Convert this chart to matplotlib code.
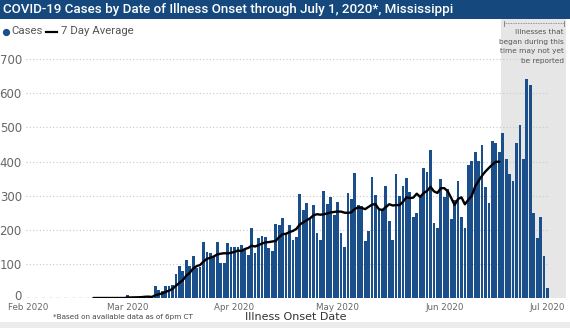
import matplotlib
matplotlib.use("Agg")
import matplotlib.pyplot as plt
import matplotlib.dates as mdates
import matplotlib.transforms as mtransforms
from matplotlib.patches import Rectangle
from matplotlib.lines import Line2D
import pandas as pd

# ---------------- data ----------------
title = "COVID-19 Cases by Date of Illness Onset through July 1, 2020*, Mississippi"
case_start = "2020-03-01"
cases = [10, 1, 2, 2, 3, 7, 3, 4, 34, 23, 20, 34, 34, 38, 69, 93, 80, 110, 93, 122,
         87, 92, 164, 136, 131, 121, 163, 102, 102, 160, 149,
         149, 149, 154, 141, 126, 205, 133, 177, 182, 178, 146, 139, 216, 213, 236,
         190, 213, 170, 180, 306, 258, 278, 232, 274, 192, 170, 315, 276, 297, 243,
         282, 190, 149, 309, 290, 366, 273, 271, 166, 196, 354, 302, 260, 258, 328,
         227, 170, 363, 300, 328, 351, 312, 237, 250, 297, 381, 370, 434, 220, 204, 349,
         297, 319, 233, 287, 344, 237, 206, 390, 401, 428, 401, 449, 325, 278, 459,
         456, 429, 483, 407, 364, 342, 456, 507, 407, 641, 626, 248, 175, 239, 124,
         29]
avg_start = "2020-02-20"
avg7 = [0, 0, 0, 0, 0, 0, 0, 0, 0, 0,
        1.4, 1.6, 1.9, 2.1, 2.6, 3.6, 4.0, 3.1, 7.9, 10.9, 13.4, 17.9, 21.7, 26.7,
        36.0, 44.4, 52.6, 65.4, 73.9, 86.4, 93.4, 96.7, 106.9, 114.9, 117.9, 121.9,
        127.7, 129.9, 131.3, 130.7, 132.6,
        135.1, 139.1, 137.9, 143.4, 146.9, 153.3, 151.0, 155.0, 159.7, 163.1, 163.9,
        165.7, 167.3, 178.7, 187.1, 188.3, 193.3, 196.7, 202.6, 215.4, 221.9, 227.9,
        233.9, 242.6, 245.7, 244.3, 245.6, 248.1, 250.9, 252.4,
        253.6, 253.3, 250.3, 249.4, 251.4, 261.3, 265.6, 264.0, 260.6, 267.3, 273.7,
        275.4, 260.3, 258.1, 266.3, 275.0, 271.3, 272.6, 272.3, 282.0, 295.3, 293.0,
        294.4, 305.9, 296.4, 308.0, 314.0, 325.9, 312.7, 308.0, 322.1,
        322.1, 313.3, 293.7, 272.7, 290.4, 295.1, 274.7, 288.0, 299.7, 327.6, 343.9,
        358.9, 371.4, 381.7, 391.6, 399.4, 399.6]
yticks = [0, 100, 200, 300, 400, 500, 600, 700]
xtick_dates = ["2020-02-01", "2020-03-01", "2020-04-01", "2020-05-01", "2020-06-01", "2020-07-01"]
xtick_labels = ["Feb 2020", "Mar 2020", "Apr 2020", "May 2020", "Jun 2020", "Jul 2020"]
legend_labels = ["Cases", "7 Day Average"]
note_lines = ["Illnesses that", "began during this", "time may not yet", "be reported"]
footnote = "*Based on available data as of 6pm CT"
xlabel = "Illness Onset Date"

# ---------------- style ----------------
BAR = "#1a4f8b"
NAVY = "#15497e"
GRID = "#c8c8c8"
TXT = "#666666"
W, H = 570, 328

plt.rcParams["font.family"] = ["DejaVu Sans"]

fig = plt.figure(figsize=(W / 100, H / 100), dpi=100)
fig.patch.set_facecolor("white")

def fx(px):
    return px / W

def fy(py):
    return 1 - py / H

# title bar
fig.patches.append(Rectangle((0, fy(19)), 1, 19 / H, transform=fig.transFigure,
                             facecolor=NAVY, edgecolor="none", zorder=-2))
fig.text(fx(3), fy(9.5), title, color="white", fontsize=9.6, va="center", ha="left",
         family="Roboto", fontweight="medium")

# grey "not yet reported" zone
fig.patches.append(Rectangle((fx(501), fy(298)), fx(566 - 501), (298 - 19) / H,
                             transform=fig.transFigure, facecolor="#e6e6e6",
                             edgecolor="none", zorder=-1))
# bottom grey band
fig.patches.append(Rectangle((0, 0), 1, 6 / H, transform=fig.transFigure,
                             facecolor="#ececec", edgecolor="none", zorder=-1))

left, right, bottom = 26, 549, 298
top_val = 740
scale = 0.341
top = bottom - top_val * scale
ax = fig.add_axes([fx(left), fy(bottom), fx(right - left), (bottom - top) / H])
ax.set_facecolor("none")

case_dates = pd.date_range(case_start, periods=len(cases), freq="D")
avg_dates = pd.date_range(avg_start, periods=len(avg7), freq="D")

ax.bar(case_dates, cases, width=0.8, color=BAR, zorder=2, linewidth=0)
ax.plot(avg_dates, avg7, color="black", lw=1.7, zorder=3, solid_capstyle="round")

x0 = mdates.date2num(pd.Timestamp("2020-02-01")) - 0.6
x1 = mdates.date2num(pd.Timestamp("2020-07-01")) + 0.45
ax.set_xlim(x0, x1)
ax.set_ylim(0, top_val)

ax.set_yticks(yticks)
ax.set_yticklabels([str(v) for v in yticks], fontsize=8.5, color=TXT)
ax.set_xticks([mdates.date2num(pd.Timestamp(d)) for d in xtick_dates])
ax.set_xticklabels(xtick_labels, fontsize=6.3, color=TXT)
ax.tick_params(axis="both", length=0)
ax.tick_params(axis="y", pad=3)
ax.tick_params(axis="x", pad=3.5)
for lab in ax.get_yticklabels():
    lab.set_verticalalignment("center_baseline")
zero_lab = ax.get_yticklabels()[0]
zero_lab.set_transform(zero_lab.get_transform() +
                       mtransforms.ScaledTranslation(0, 3 / 100, fig.dpi_scale_trans))

for v in yticks[1:]:
    ax.axhline(v, color=GRID, lw=0.8, ls=(0, (1, 2)), zorder=1)
ax.axhline(0, color="#6f8fb5", lw=0.9, ls=(0, (3, 3)), zorder=1)
for s in ax.spines.values():
    s.set_visible(False)

# legend (manual)
LY = 31.5
fig.add_artist(Line2D([fx(6)], [fy(LY)], marker="o", ms=4.2, color=BAR,
                      transform=fig.transFigure, linestyle="none"))
fig.text(fx(11.5), fy(LY), legend_labels[0], fontsize=8.2, color="#555555",
         va="center", ha="left", family="Roboto")
fig.add_artist(Line2D([fx(45.5), fx(56.5)], [fy(LY), fy(LY)], color="black", lw=1.6,
                      transform=fig.transFigure))
fig.text(fx(61), fy(LY), legend_labels[1], fontsize=8.2, color="#555555",
         va="center", ha="left", family="Roboto")

# annotation bracket + text
fig.add_artist(Line2D([fx(504), fx(564)], [fy(23), fy(23)], color="#777777", lw=0.6,
                      ls=(0, (1, 1)), transform=fig.transFigure))
for xx in (504, 564):
    fig.add_artist(Line2D([fx(xx), fx(xx)], [fy(20.5), fy(25.5)], color="#777777",
                          lw=0.6, transform=fig.transFigure))
for i, line in enumerate(note_lines):
    fig.text(fx(564), fy(32.5 + i * 9.4), line, fontsize=5.3, color="#555555",
             ha="right", va="center")

fig.text(fx(123), fy(317), footnote, fontsize=5.2, color="#444444", ha="center",
         va="center")
fig.text(fx(296), fy(317.5), xlabel, fontsize=8.0, color="#333333", ha="center",
         va="center")

fig.savefig("out.png", dpi=100, facecolor=fig.get_facecolor())
